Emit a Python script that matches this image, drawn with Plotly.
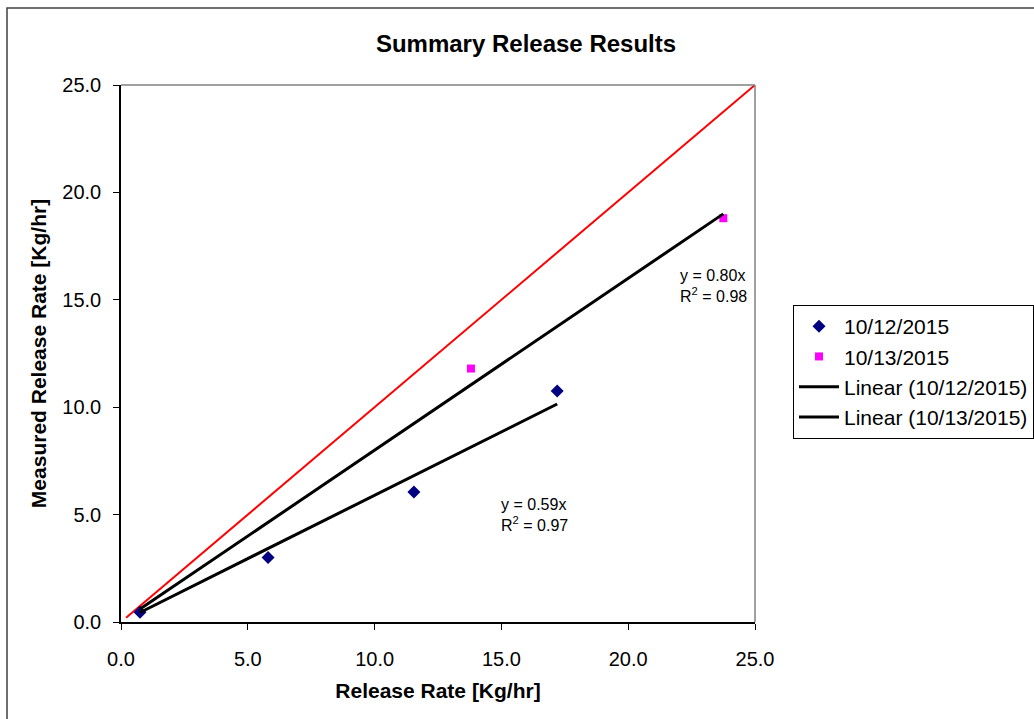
import plotly.graph_objects as go

# Data
rate_1012 = [0.75, 5.8, 11.55, 17.2]
meas_1012 = [0.45, 3.0, 6.05, 10.75]
rate_1013 = [13.8, 23.75]
meas_1013 = [11.8, 18.8]
trend_range_1012 = [0.75, 17.2]
trend_range_1013 = [0.75, 23.75]
slope_1012 = 0.59
slope_1013 = 0.80
r2_1012 = 0.97
r2_1013 = 0.98
ref_line = [0.2, 25.0]
ticks = [0.0, 5.0, 10.0, 15.0, 20.0, 25.0]

FONT = "Liberation Sans, Arial, sans-serif"

fig = go.Figure()
fig.add_trace(go.Scatter(x=ref_line, y=ref_line, mode="lines",
                         line=dict(color="#FF0000", width=2), showlegend=False, hoverinfo="skip"))
fig.add_trace(go.Scatter(x=rate_1012, y=meas_1012, mode="markers", name="10/12/2015",
                         marker=dict(symbol="diamond", color="#000080", size=10)))
fig.add_trace(go.Scatter(x=rate_1013, y=meas_1013, mode="markers", name="10/13/2015",
                         marker=dict(symbol="square", color="#FF00FF", size=8)))
fig.add_trace(go.Scatter(x=trend_range_1012, y=[slope_1012 * v for v in trend_range_1012],
                         mode="lines", name="Linear (10/12/2015)",
                         line=dict(color="black", width=3)))
fig.add_trace(go.Scatter(x=trend_range_1013, y=[slope_1013 * v for v in trend_range_1013],
                         mode="lines", name="Linear (10/13/2015)",
                         line=dict(color="black", width=3)))

axis_common = dict(range=[0, 25], tickvals=ticks, ticktext=[f"{t:.1f}" for t in ticks],
                   showgrid=False, zeroline=False, showline=True, linecolor="black",
                   linewidth=1.5, ticks="outside", ticklen=6, tickcolor="black",
                   tickfont=dict(family=FONT, size=20, color="black"))

fig.update_layout(
    width=1034, height=719,
    margin=dict(l=121, r=279, t=85, b=97, autoexpand=False),
    paper_bgcolor="white", plot_bgcolor="white",
    font=dict(family=FONT, color="black"),
    title=dict(text="<b>Summary Release Results</b>", x=(526 / 1034), xanchor="center",
               y=1 - 44 / 719, yanchor="middle", font=dict(size=24, family=FONT)),
    xaxis=dict(**axis_common, ticklabelstandoff=12,
               title=dict(text="<b>Release Rate [Kg/hr]</b>",
                          font=dict(size=21, family=FONT), standoff=15)),
    yaxis=dict(**axis_common, ticklabelstandoff=8,
               title=dict(text="<b>Measured Release Rate [Kg/hr]</b>",
                          font=dict(size=21, family=FONT), standoff=10)),
    legend=dict(x=(793 - 121) / 634, xanchor="left", y=1 - (305 - 85) / 537, yanchor="top",
                bordercolor="black", borderwidth=1, bgcolor="white",
                font=dict(size=21, family=FONT), tracegroupgap=0, itemwidth=40),
    showlegend=True,
)

fig.add_annotation(x=23.35, y=15.65, xref="x", yref="y", showarrow=False, align="left",
                   text=f"y = {slope_1013:.2f}x<br>R<sup>2</sup> = {r2_1013:.2f}",
                   font=dict(size=16, family=FONT))
fig.add_annotation(x=16.3, y=5.0, xref="x", yref="y", showarrow=False, align="left",
                   text=f"y = {slope_1012:.2f}x<br>R<sup>2</sup> = {r2_1012:.2f}",
                   font=dict(size=16, family=FONT))

# plot area top/right border (gray)
fig.add_shape(type="line", xref="paper", yref="paper", x0=0, x1=1, y0=1, y1=1,
              line=dict(color="#808080", width=1.5))
fig.add_shape(type="line", xref="paper", yref="paper", x0=1, x1=1, y0=0, y1=1,
              line=dict(color="#808080", width=1.5))
# outer chart frame
fig.add_shape(type="rect", xref="paper", yref="paper",
              x0=(7 - 121) / 634, x1=(1040 - 121) / 634,
              y0=-(725 - 622) / 537, y1=1 + (85 - 8) / 537,
              line=dict(color="#404040", width=1.5))

fig.write_html("out.html", config={"displayModeBar": False},
               post_script="document.body.style.margin='0';")
